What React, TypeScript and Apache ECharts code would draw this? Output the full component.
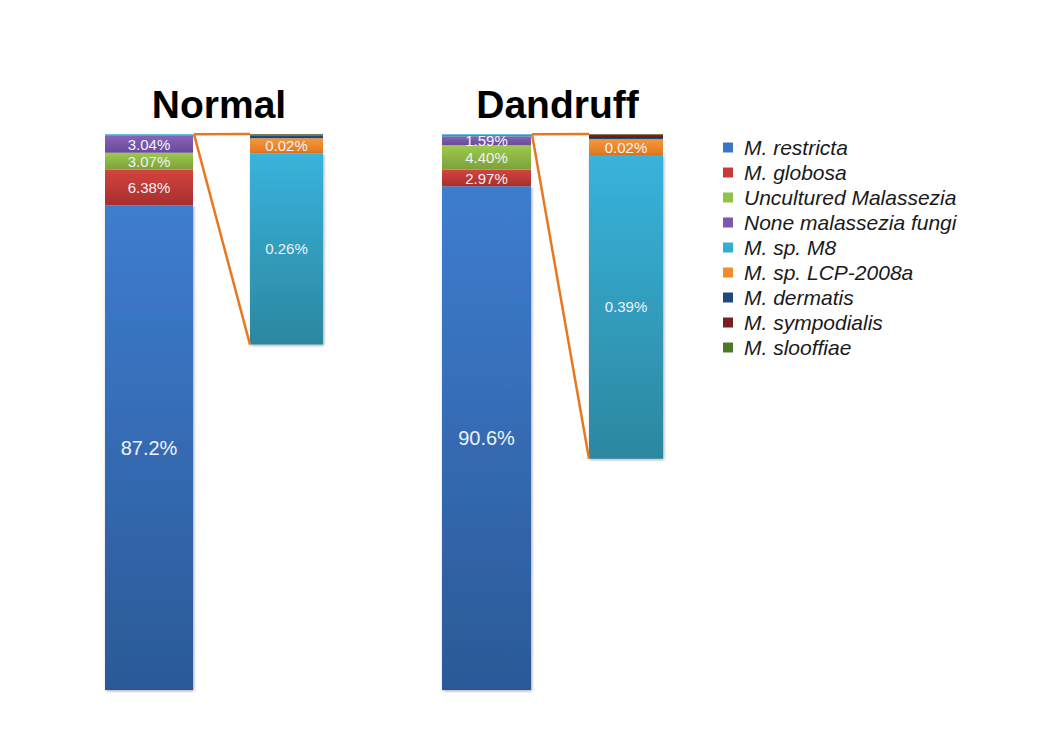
import React, { useEffect, useRef } from "react";
import * as echarts from "echarts";

const groups = ["Normal", "Dandruff"];
const species = [
  "M. restricta",
  "M. globosa",
  "Uncultured Malassezia",
  "None malassezia fungi",
  "M. sp. M8",
  "M. sp. LCP-2008a",
  "M. dermatis",
  "M. sympodialis",
  "M. slooffiae",
];
const normalValues = [87.2, 6.38, 3.07, 3.04, 0.26, 0.02, 0.004, 0.001, 0.001];
const dandruffValues = [90.6, 2.97, 4.4, 1.59, 0.39, 0.02, 0.002, 0.004, 0.001];
const groupValues = [normalValues, dandruffValues];

// which species get a label on the full bar / the zoomed bar
const mainLabeled = [0, 1, 2, 3];
const zoomLabeled = [4, 5];
// stacking order of the zoomed bar, from its top downward
const zoomOrder = [8, 7, 6, 5, 4];
// stacking order of the full bar, from its bottom upward
const mainOrder = [0, 1, 2, 3, 4, 5, 6, 7, 8];

const solidColors = ["#3a76c6", "#c63a38", "#93c047", "#7d58ad", "#36acd4", "#f38a2c", "#1f4a78", "#7a1e20", "#4c7a2a"];
const topColors = ["#3e7dcf", "#d4443f", "#9dca4d", "#8763b8", "#38b3dc", "#f7963b", "#24548a", "#8a2224", "#578a30"];
const bottomColors = ["#2b5997", "#a72f2e", "#7ca13a", "#6a4a97", "#2c879f", "#e0771f", "#1a3f66", "#641819", "#3f6522"];

// layout of the four bars (grid boxes)
const layout = [
  { left: 105, width: 88 },
  { left: 250, width: 73 },
  { left: 442, width: 89 },
  { left: 589, width: 74 },
];
const gridTop = 134;
const gridHeight = 556;
const zoomMax = [0.755, 0.714];

const grad = (i: number) =>
  new echarts.graphic.LinearGradient(0, 0, 0, 1, [
    { offset: 0, color: topColors[i] },
    { offset: 1, color: bottomColors[i] },
  ]);

const fmt = (v: number) => (v >= 10 ? v.toFixed(1) : v.toFixed(2)) + "%";

export default function App() {
  const ref = useRef<HTMLDivElement>(null);
  useEffect(() => {
    document.body.style.margin = "0";
    if (!ref.current) return;
    const chart = echarts.init(ref.current, null, { renderer: "svg" });

    const grids: any[] = [];
    const xAxes: any[] = [];
    const yAxes: any[] = [];
    const series: any[] = [];

    groups.forEach((g, gi) => {
      const vals = groupValues[gi];
      const mi = gi * 2;
      const zi = gi * 2 + 1;
      [mi, zi].forEach((idx) => {
        grids.push({ left: layout[idx].left, width: layout[idx].width, top: gridTop, height: gridHeight });
        xAxes.push({ type: "category", gridIndex: idx, data: [g], show: false });
      });
      yAxes.push({ type: "value", gridIndex: mi, min: 0, max: 100, show: false, splitLine: { show: false } });
      yAxes.push({ type: "value", gridIndex: zi, min: 0, max: zoomMax[gi], inverse: true, show: false, splitLine: { show: false } });

      mainOrder.forEach((s) => {
        series.push({
          type: "bar",
          name: species[s],
          xAxisIndex: mi,
          yAxisIndex: mi,
          stack: "main" + gi,
          barWidth: "100%",
          data: [vals[s]],
          itemStyle: {
            color: grad(s),
            ...(s === 0 ? { shadowBlur: 3, shadowColor: "rgba(0,0,0,0.35)", shadowOffsetX: 1, shadowOffsetY: 1 } : {}),
          },
          label: {
            show: mainLabeled.includes(s),
            position: "inside",
            formatter: () => fmt(vals[s]),
            color: "#eef2f8",
            fontFamily: "Liberation Sans, Arial, sans-serif",
            fontSize: s === 0 ? 20 : 15,
          },
        });
      });
      zoomOrder.forEach((s) => {
        series.push({
          type: "bar",
          name: species[s],
          xAxisIndex: zi,
          yAxisIndex: zi,
          stack: "zoom" + gi,
          barWidth: "100%",
          data: [vals[s]],
          itemStyle: {
            color: grad(s),
            ...(s === 4 ? { shadowBlur: 3, shadowColor: "rgba(0,0,0,0.35)", shadowOffsetX: 1, shadowOffsetY: 1 } : {}),
          },
          label: {
            show: zoomLabeled.includes(s),
            position: "inside",
            formatter: () => fmt(vals[s]),
            color: "#eef2f8",
            fontFamily: "Liberation Sans, Arial, sans-serif",
            fontSize: 15,
          },
        });
      });
    });

    chart.setOption({
      animation: false,
      backgroundColor: "#ffffff",
      title: groups.map((g, gi) => ({
        text: g,
        left: (layout[gi * 2].left + layout[gi * 2 + 1].left + layout[gi * 2 + 1].width) / 2,
        top: 80,
        textAlign: "center",
        textStyle: { fontSize: 39, fontWeight: "bold", color: "#000", fontFamily: "Liberation Sans, Arial, sans-serif" },
      })),
      legend: {
        orient: "vertical",
        left: 718,
        top: 132,
        icon: "rect",
        itemWidth: 10,
        itemHeight: 10,
        itemGap: 4,
        selectedMode: false,
        data: species.map((n, i) => ({ name: n, itemStyle: { color: solidColors[i] } })),
        textStyle: {
          fontSize: 21,
          lineHeight: 21,
          fontStyle: "italic",
          color: "#1a1a1a",
          fontFamily: "Liberation Sans, Arial, sans-serif",
          padding: [0, 0, 0, 6],
        },
      },
      grid: grids,
      xAxis: xAxes,
      yAxis: yAxes,
      series,
    });

    // connector lines between each full bar and its zoomed bar
    const graphics: any[] = [];
    groups.forEach((g, gi) => {
      const vals = groupValues[gi];
      const mi = gi * 2;
      const zi = gi * 2 + 1;
      const mainSum = mainOrder.reduce((a, s) => a + vals[s], 0);
      const zoomSum = zoomOrder.reduce((a, s) => a + vals[s], 0);
      const pMain = chart.convertToPixel({ xAxisIndex: mi, yAxisIndex: mi }, [0, mainSum]) as number[];
      const pZoomTop = chart.convertToPixel({ xAxisIndex: zi, yAxisIndex: zi }, [0, 0]) as number[];
      const pZoomBot = chart.convertToPixel({ xAxisIndex: zi, yAxisIndex: zi }, [0, zoomSum]) as number[];
      const x1 = pMain[0] + layout[mi].width / 2 + 1;
      const x2 = pZoomTop[0] - layout[zi].width / 2;
      const style = { stroke: "#e8771f", lineWidth: 2.5 };
      graphics.push({ type: "line", z: 100, shape: { x1, y1: pMain[1], x2, y2: pZoomTop[1] }, style });
      graphics.push({ type: "line", z: 100, shape: { x1, y1: pMain[1], x2, y2: pZoomBot[1] }, style });
    });
    chart.setOption({ graphic: graphics });

    return () => chart.dispose();
  }, []);
  return <div ref={ref} style={{ width: 1040, height: 754 }} />;
}
